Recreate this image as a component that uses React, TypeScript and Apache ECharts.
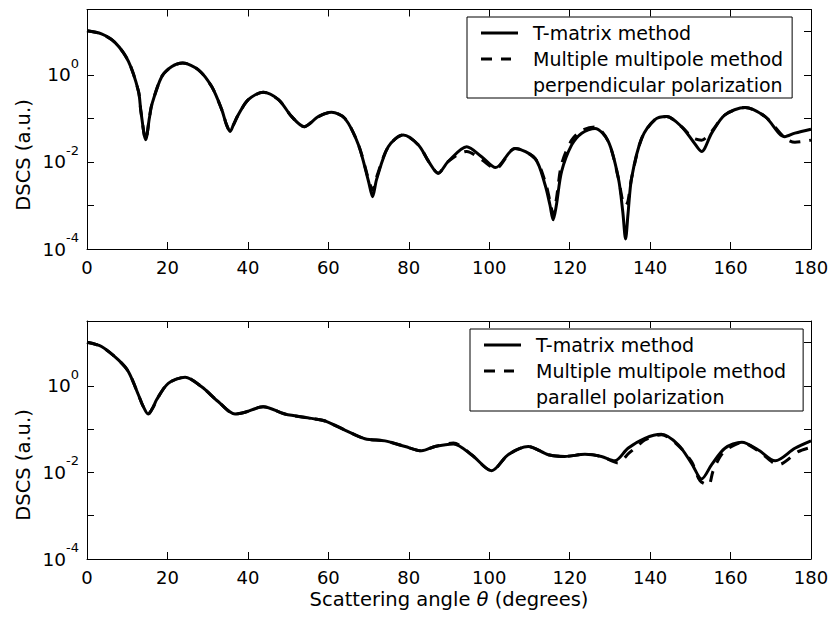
import React, { useEffect, useRef } from 'react';
import * as echarts from 'echarts';

// ---------- data (DSCS read as decade exponents, i.e. log10 of the value) ----------
const topAngles = [0, 3.6, 7.0, 10.3, 12.8, 13.4, 14.6, 15.5, 16.1, 18.6, 21.1, 23.8, 27.7, 31.0, 33.5, 34.7, 35.6, 36.4, 37.6, 40.1, 43.8, 47.6, 50.9, 54.0, 57.5, 60.8, 64.1, 67.5, 70.0, 71.0, 72.0, 74.9, 78.6, 82.4, 85.0, 87.3, 89.8, 94.4, 98.1, 101.6, 106.4, 111.4, 113.9, 115.1, 115.9, 116.7, 118.0, 120.5, 123.0, 126.3, 129.6, 132.1, 133.2, 133.9, 134.5, 135.4, 137.9, 141.2, 144.1, 147.8, 150.7, 152.8, 155.3, 158.6, 163.6, 168.6, 173.5, 176.0, 180];
const topTMatrixExp = [1.01, 0.94, 0.74, 0.31, -0.38, -0.84, -1.49, -1.0, -0.69, -0.04, 0.19, 0.27, 0.115, -0.27, -0.8, -1.15, -1.30, -1.15, -0.92, -0.57, -0.40, -0.57, -0.96, -1.19, -0.96, -0.86, -1.0, -1.61, -2.45, -2.80, -2.40, -1.65, -1.38, -1.61, -2.0, -2.26, -1.99, -1.65, -1.88, -2.13, -1.69, -1.92, -2.53, -2.99, -3.33, -2.99, -2.22, -1.61, -1.34, -1.23, -1.53, -2.37, -3.14, -3.77, -3.2, -2.37, -1.46, -1.03, -0.96, -1.19, -1.53, -1.76, -1.34, -0.92, -0.75, -0.96, -1.42, -1.34, -1.25];
const topMultipoleExp = [1.01, 0.94, 0.74, 0.31, -0.38, -0.84, -1.49, -1.0, -0.69, -0.04, 0.19, 0.27, 0.115, -0.27, -0.8, -1.15, -1.30, -1.15, -0.92, -0.57, -0.40, -0.57, -0.96, -1.19, -0.96, -0.86, -1.0, -1.61, -2.4, -2.65, -2.35, -1.65, -1.38, -1.61, -2.0, -2.26, -1.99, -1.76, -1.95, -2.15, -1.69, -1.92, -2.45, -2.9, -3.2, -2.85, -2.05, -1.5, -1.28, -1.2, -1.53, -2.37, -2.9, -3.0, -2.9, -2.37, -1.46, -1.03, -0.96, -1.19, -1.45, -1.5, -1.3, -0.92, -0.75, -0.96, -1.45, -1.55, -1.50];

const botAngles = [0, 3.6, 7.8, 10.3, 12.8, 14.0, 15.2, 16.5, 17.3, 20.2, 24.4, 28.5, 32.6, 36.8, 39.3, 43.8, 49.2, 55.8, 59.2, 64.1, 69.1, 74.1, 79.1, 83.2, 86.5, 91.1, 95.6, 100.6, 104.7, 109.7, 114.7, 118.8, 123.8, 127.9, 131.2, 134.5, 138.7, 142.8, 147.0, 150.3, 152.8, 155.3, 158.6, 162.8, 166.9, 171.1, 176.0, 180];
const botTMatrixExp = [1.01, 0.91, 0.60, 0.33, -0.21, -0.48, -0.65, -0.48, -0.32, 0.06, 0.20, -0.02, -0.36, -0.65, -0.61, -0.48, -0.65, -0.75, -0.81, -1.02, -1.22, -1.27, -1.40, -1.50, -1.40, -1.34, -1.59, -1.96, -1.59, -1.40, -1.59, -1.63, -1.58, -1.63, -1.73, -1.44, -1.21, -1.12, -1.36, -1.79, -2.15, -1.82, -1.44, -1.30, -1.48, -1.73, -1.44, -1.27];
const botMultipoleAngles = [0, 3.6, 7.8, 10.3, 12.8, 14.0, 15.2, 16.5, 17.3, 20.2, 24.4, 28.5, 32.6, 36.8, 39.3, 43.8, 49.2, 55.8, 59.2, 64.1, 69.1, 74.1, 79.1, 83.2, 86.5, 91.1, 95.6, 100.6, 104.7, 109.7, 114.7, 118.8, 123.8, 127.9, 132.0, 134.8, 137.0, 138.7, 142.8, 147.0, 150.3, 152.4, 154.5, 155.6, 157.0, 158.6, 162.8, 166.9, 171.9, 176.8, 180];
const botMultipoleExp = [1.01, 0.91, 0.60, 0.33, -0.21, -0.48, -0.65, -0.48, -0.32, 0.06, 0.20, -0.02, -0.36, -0.65, -0.61, -0.48, -0.65, -0.75, -0.81, -1.02, -1.22, -1.27, -1.40, -1.50, -1.40, -1.32, -1.59, -1.96, -1.59, -1.40, -1.59, -1.63, -1.58, -1.63, -1.78, -1.55, -1.38, -1.25, -1.13, -1.38, -1.75, -2.19, -2.29, -1.98, -1.7, -1.5, -1.31, -1.5, -1.82, -1.52, -1.42];

const xTickInterval = 20;
const yLabelExponents = [-4, -2, 0];
const yMinExp = -4;
const yMaxExp = 1.5;

const nameT = 'T-matrix method';
const nameM = 'Multiple multipole method';
const nameTopPol = 'perpendicular polarization';
const nameBotPol = 'parallel polarization';

const FONT = "'DejaVu Sans', sans-serif";

const ICON_SOLID = 'path://M0,0H37V3H0Z';
const ICON_DASHED = 'path://M0,0H11V3H0Z M20,0H30V3H20Z M36.95,1.45H37V1.55H36.95Z';

const toPairs = (angles: number[], exps: number[]) =>
  angles.map((a, i) => [a, Math.pow(10, exps[i])]);

const yLabelFormatter = (v: number) => {
  const l = Math.log10(v);
  const e = Math.round(l);
  if (Math.abs(l - e) > 1e-6) return '';
  if (yLabelExponents.indexOf(e) < 0) return '';
  return `{b|10}{s|${e}}`;
};

const axisLineStyle = { color: '#000', width: 1 };

function xAxis(gridIndex: number, position: string, labels: boolean, name?: boolean) {
  const ax: any = {
    type: 'value',
    gridIndex,
    position,
    min: 0,
    max: 180,
    interval: xTickInterval,
    axisLine: { show: true, onZero: false, lineStyle: axisLineStyle },
    axisTick: { show: true, inside: true, length: 7, lineStyle: axisLineStyle },
    splitLine: { show: false },
    axisLabel: labels
      ? { show: true, margin: 9, fontSize: 18, lineHeight: 18, fontFamily: FONT, color: '#000' }
      : { show: false },
  };
  if (name) {
    ax.name = '{a|Scattering angle }{i|θ}{a| (degrees)}';
    ax.nameLocation = 'middle';
    ax.nameGap = 31;
    ax.nameTextStyle = {
      rich: {
        a: { fontSize: 19.5, lineHeight: 19, fontFamily: FONT, color: '#000' },
        i: { fontSize: 19.5, lineHeight: 19, fontFamily: FONT, fontStyle: 'italic', color: '#000' },
      },
    };
  }
  return ax;
}

function yAxis(gridIndex: number, position: string, labels: boolean) {
  return {
    type: 'log',
    logBase: 10,
    gridIndex,
    position,
    min: Math.pow(10, yMinExp),
    max: Math.pow(10, yMaxExp),
    axisLine: { show: true, onZero: false, lineStyle: axisLineStyle },
    axisTick: { show: true, inside: true, length: 7, lineStyle: axisLineStyle },
    splitLine: { show: false },
    minorTick: { show: false },
    axisLabel: labels
      ? {
          show: true,
          margin: 8,
          formatter: yLabelFormatter,
          rich: {
            b: { fontSize: 18.5, lineHeight: 36, fontFamily: FONT, color: '#000' },
            s: { fontSize: 13, lineHeight: 17, verticalAlign: 'top', fontFamily: FONT, color: '#000' },
          },
        }
      : { show: false },
  };
}

function lineSeries(name: string, data: any[], xi: number, dashed: boolean, z: number) {
  return {
    type: 'line',
    name,
    data,
    xAxisIndex: xi,
    yAxisIndex: xi,
    symbol: 'none',
    smooth: 0.3,
    z,
    lineStyle: { color: '#000', width: 3, type: dashed ? [11, 9] : 'solid' },
    itemStyle: { color: '#000' },
    silent: true,
  };
}

function dummySeries(name: string, xi: number) {
  return {
    type: 'line',
    name,
    data: [],
    xAxisIndex: xi,
    yAxisIndex: xi,
    symbol: 'none',
    lineStyle: { color: 'rgba(0,0,0,0)', width: 3 },
    itemStyle: { color: 'rgba(0,0,0,0)' },
  };
}

function legend(top: number, left: number, pol: string, padding: number[]) {
  return {
    orient: 'vertical',
    top,
    left,
    padding,
    itemGap: 6,
    itemWidth: 37,
    itemHeight: 14,
    selectedMode: false,
    borderColor: '#000',
    borderWidth: 1,
    backgroundColor: '#fff',
    data: [
      { name: nameT, icon: ICON_SOLID },
      { name: nameM, icon: ICON_DASHED },
      { name: pol, icon: ICON_SOLID },
    ],
    textStyle: { fontSize: 19, lineHeight: 20, fontFamily: FONT, color: '#000', padding: [0, 0, 0, 10] },
  };
}

export default function App() {
  const ref = useRef<HTMLDivElement>(null);
  useEffect(() => {
    if (!ref.current) return;
    const chart = echarts.init(ref.current, undefined, { renderer: 'svg' });
    const option: any = {
      animation: false,
      backgroundColor: '#fff',
      textStyle: { fontFamily: FONT },
      grid: [
        { left: 87, top: 9.5, width: 724, height: 239.5 },
        { left: 87, top: 321, width: 724, height: 238 },
      ],
      xAxis: [
        xAxis(0, 'bottom', true),
        xAxis(0, 'top', false),
        xAxis(1, 'bottom', true, true),
        xAxis(1, 'top', false),
      ],
      yAxis: [
        yAxis(0, 'left', true),
        yAxis(0, 'right', false),
        yAxis(1, 'left', true),
        yAxis(1, 'right', false),
      ],
      legend: [
        legend(17, 467, nameTopPol, [6, 9, 3, 14]),
        legend(329, 470, nameBotPol, [6, 17, 4, 14]),
      ],
      graphic: [
        {
          type: 'text',
          x: 23,
          y: 155,
          rotation: Math.PI / 2,
          style: { text: 'DSCS (a.u.)', fontSize: 19.5, fontFamily: FONT, fill: '#000', align: 'center', verticalAlign: 'middle' },
        },
        {
          type: 'text',
          x: 23,
          y: 465,
          rotation: Math.PI / 2,
          style: { text: 'DSCS (a.u.)', fontSize: 19.5, fontFamily: FONT, fill: '#000', align: 'center', verticalAlign: 'middle' },
        },
      ],
      series: [
        lineSeries(nameM, toPairs(topAngles, topMultipoleExp), 0, true, 2),
        lineSeries(nameT, toPairs(topAngles, topTMatrixExp), 0, false, 3),
        dummySeries(nameTopPol, 0),
        lineSeries(nameM, toPairs(botMultipoleAngles, botMultipoleExp), 2, true, 2),
        lineSeries(nameT, toPairs(botAngles, botTMatrixExp), 2, false, 3),
        dummySeries(nameBotPol, 2),
      ],
    };
    chart.setOption(option);
    return () => chart.dispose();
  }, []);
  return (
    <div
      ref={ref}
      style={{ position: 'fixed', left: 0, top: 0, width: 834, height: 617, background: '#fff' }}
    />
  );
}
